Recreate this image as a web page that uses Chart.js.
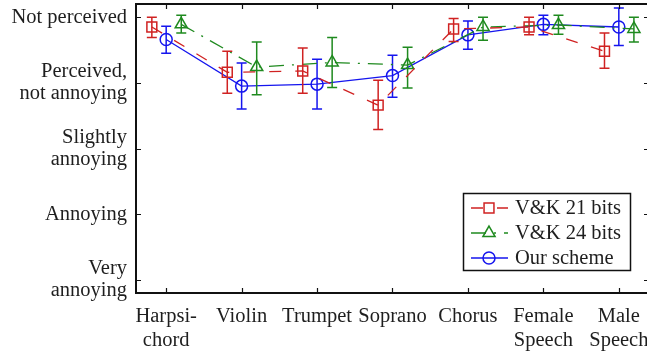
<!DOCTYPE html>
<html><head><meta charset="utf-8">
<script src="https://cdn.jsdelivr.net/npm/chart.js@4/dist/chart.umd.min.js"></script>
<style>
html,body{margin:0;padding:0;background:#fff;overflow:hidden}
#wrap{width:647px;height:352px;overflow:hidden;position:relative;background:#fff}
canvas{position:absolute;left:0;top:0}
</style></head>
<body><div id="wrap"><canvas id="c" width="662" height="352" style="width:662px;height:352px"></canvas></div>
<script>
const categories = [['Harpsi-','chord'],'Violin','Trumpet','Soprano','Chorus',['Female','Speech'],['Male','Speech']];
const ratingTicks = [1,2,3,4,5];
const ratingLabels = [['Very','annoying'],'Annoying',['Slightly','annoying'],['Perceived,','not annoying'],'Not perceived'];

const vk21 =      [4.85,4.16,4.18,3.66,4.82,4.85,4.48];
const vk21Low =   [4.69,3.84,3.84,3.29,4.63,4.73,4.22];
const vk21High =  [5.00,4.48,4.53,4.04,4.98,5.00,4.76];

const vk24 =      [4.89,4.24,4.31,4.27,4.85,4.88,4.82];
const vk24Low =   [4.76,3.82,3.93,3.92,4.65,4.74,4.62];
const vk24High =  [5.03,4.62,4.69,4.54,5.00,5.03,5.00];

const ours =      [4.66,3.95,3.98,4.11,4.73,4.89,4.85];
const oursLow =   [4.45,3.60,3.60,3.78,4.51,4.73,4.57];
const oursHigh =  [4.86,4.30,4.36,4.42,4.94,5.03,5.14];

const FONT = {family:'"Liberation Serif", "Times New Roman", serif', size:20.5};
const TXT = '#1e1e1e';

function pts(vals, off){ return vals.map((v,i)=>({x:i+off, y:v})); }

const errorBars = {
  id:'errorBars',
  afterDatasetDraw(chart, args){
    const ds = chart.data.datasets[args.index];
    const {ctx, scales:{x,y}} = chart;
    ctx.save();
    ctx.strokeStyle = ds.borderColor; ctx.lineWidth = 1.5; ctx.setLineDash([]);
    ds.data.forEach((p,i)=>{
      const px = x.getPixelForValue(p.x);
      const lo = y.getPixelForValue(ds.errLow[i]);
      const hi = y.getPixelForValue(ds.errHigh[i]);
      ctx.beginPath();
      ctx.moveTo(px,lo); ctx.lineTo(px,hi);
      ctx.moveTo(px-5,lo); ctx.lineTo(px+5,lo);
      ctx.moveTo(px-5,hi); ctx.lineTo(px+5,hi);
      ctx.stroke();
    });
    ctx.restore();
  }
};

const frame = {
  id:'frame',
  afterDraw(chart){
    const {ctx, chartArea:a, scales:{x,y}} = chart;
    ctx.save();
    ctx.strokeStyle = '#111'; ctx.lineWidth = 1.2; ctx.setLineDash([]);
    ctx.beginPath();
    x.ticks.forEach(t=>{ const px = Math.round(x.getPixelForValue(t.value))+0.5;
      ctx.moveTo(px,a.bottom); ctx.lineTo(px,a.bottom-5);
      ctx.moveTo(px,a.top); ctx.lineTo(px,a.top+5); });
    y.ticks.forEach(t=>{ const py = Math.round(y.getPixelForValue(t.value))+0.5;
      ctx.moveTo(a.left,py); ctx.lineTo(a.left+5,py);
      ctx.moveTo(a.right,py); ctx.lineTo(a.right-5,py); });
    ctx.stroke();
    ctx.lineWidth = 2;
    ctx.strokeRect(a.left, a.top, a.right-a.left, a.bottom-a.top);
    // legend
    const bx=463.5, by=193.5, bw=167, bh=77;
    ctx.fillStyle='#fff'; ctx.fillRect(bx,by,bw,bh);
    ctx.lineWidth=1.5; ctx.strokeStyle='#111'; ctx.strokeRect(bx,by,bw,bh);
    chart.data.datasets.forEach((ds,i)=>{
      const ry = 208 + 25*i;
      ctx.strokeStyle = ds.borderColor; ctx.lineWidth = ds.borderWidth;
      ctx.setLineDash(ds.borderDash || []);
      ctx.beginPath(); ctx.moveTo(471,ry); ctx.lineTo(508,ry); ctx.stroke();
      ctx.setLineDash([]);
      ctx.fillStyle = 'rgba(0,0,0,0)';
      ctx.lineWidth = ds.pointBorderWidth;
      Chart.helpers.drawPoint(ctx, {pointStyle: ds.pointStyle, radius: ds.pointRadius, rotation:0, borderWidth: ds.pointBorderWidth}, 489, ry);
      ctx.fillStyle = TXT; ctx.font = `${FONT.size}px ${FONT.family}`;
      ctx.textBaseline = 'middle'; ctx.textAlign = 'left';
      ctx.fillText(ds.label, 515, ry+1);
    });
    ctx.restore();
  }
};

new Chart(document.getElementById('c'), {
  type:'line',
  data:{ datasets:[
    {label:'V&K 21 bits', data:pts(vk21,-0.19), errLow:vk21Low, errHigh:vk21High,
     borderColor:'#d02222', borderWidth:1.3, borderDash:[12,14], pointStyle:'rect', pointRadius:7,
     pointBorderWidth:1.5, pointBackgroundColor:'rgba(0,0,0,0)', pointBorderColor:'#d02222'},
    {label:'V&K 24 bits', data:pts(vk24,0.2), errLow:vk24Low, errHigh:vk24High,
     borderColor:'#1f8a1f', borderWidth:1.3, borderDash:[15,8,2,8], pointStyle:'triangle', pointRadius:7,
     pointBorderWidth:1.5, pointBackgroundColor:'rgba(0,0,0,0)', pointBorderColor:'#1f8a1f'},
    {label:'Our scheme', data:pts(ours,0), errLow:oursLow, errHigh:oursHigh,
     borderColor:'#1515ee', borderWidth:1.3, pointStyle:'circle', pointRadius:6,
     pointBorderWidth:1.5, pointBackgroundColor:'rgba(0,0,0,0)', pointBorderColor:'#1515ee'}
  ]},
  options:{
    responsive:false, animation:false, devicePixelRatio:1,
    layout:{autoPadding:false, padding:{top:4,right:13,left:0,bottom:0}},
    plugins:{legend:{display:false}, tooltip:{enabled:false}},
    elements:{line:{tension:0}},
    scales:{
      x:{type:'linear', min:-0.4, max:6.4,
         afterBuildTicks(s){ s.ticks = categories.map((_,i)=>({value:i})); },
         afterFit(s){ s.height = 59; s.paddingLeft = 0; s.paddingRight = 0; },
         ticks:{callback:(v)=>categories[v], font:{...FONT, lineHeight:1.15}, color:TXT, padding:12, maxRotation:0, autoSkip:false},
         grid:{display:false, drawTicks:false}, border:{display:false}},
      y:{min:0.8, max:5.2,
         afterBuildTicks(s){ s.ticks = ratingTicks.map(v=>({value:v})); },
         afterFit(s){ s.width = 136; s.paddingTop = 0; s.paddingBottom = 0; },
         ticks:{callback:(v)=>ratingLabels[ratingTicks.indexOf(v)], font:{...FONT, lineHeight:1.08}, color:TXT, padding:9, autoSkip:false},
         grid:{display:false, drawTicks:false}, border:{display:false}}
    }
  },
  plugins:[errorBars, frame]
});
</script></body></html>
